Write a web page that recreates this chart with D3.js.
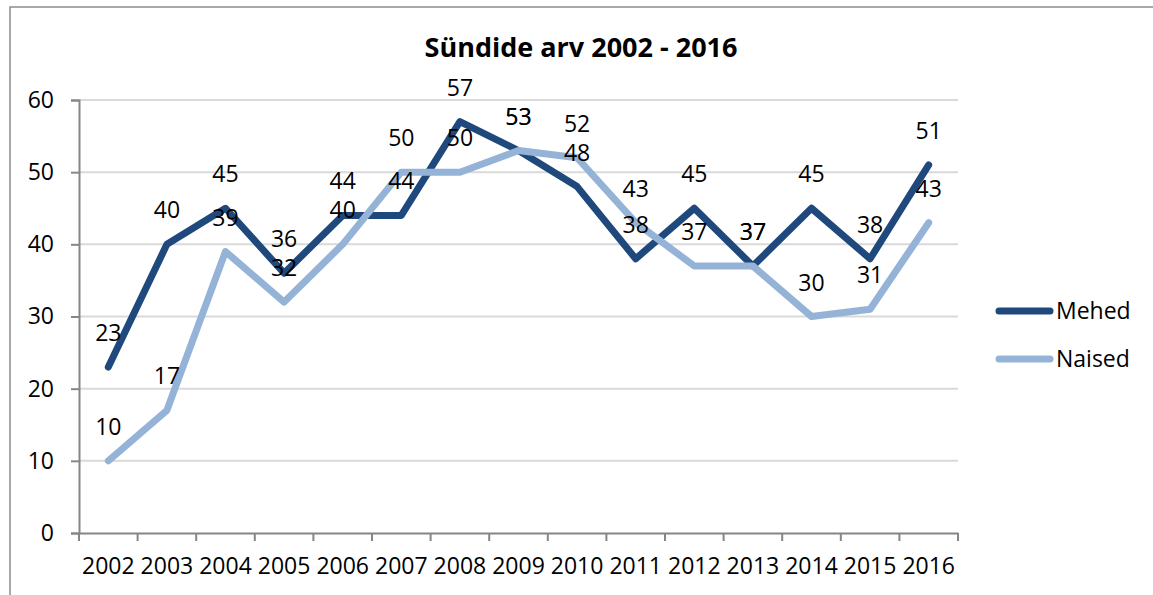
<!DOCTYPE html>
<html>
<head>
<meta charset="utf-8">
<script src="https://cdn.jsdelivr.net/npm/d3@7"></script>
<style>
  body { margin: 0; background: #fff; }
  svg { display: block; font-family: "Open Sans", sans-serif; }
</style>
</head>
<body>
<svg id="chart" width="1153" height="595"></svg>
<script>
// DATA
const years = ['2002','2003','2004','2005','2006','2007','2008','2009','2010','2011','2012','2013','2014','2015','2016'];
const mehed = [23, 40, 45, 36, 44, 44, 57, 53, 48, 38, 45, 37, 45, 38, 51];
const naised = [10, 17, 39, 32, 40, 50, 50, 53, 52, 43, 37, 37, 30, 31, 43];
const yTicks = [0, 10, 20, 30, 40, 50, 60];
const seriesNames = ['Mehed', 'Naised'];
const colors = ['#1F497D', '#95B3D7'];

const svg = d3.select('#chart');

// outer frame (right and bottom edges fall outside the picture)
svg.append('rect')
    .attr('x', 10).attr('y', 7)
    .attr('width', 1200).attr('height', 700)
    .attr('fill', 'none')
    .attr('stroke', '#8c8c8c')
    .attr('stroke-width', 1.5);

const x = d3.scaleBand().domain(years).range([79, 958]);
const y = d3.scaleLinear().domain([0, 60]).range([533, 100]);

// gridlines
svg.append('g')
    .selectAll('line')
    .data(yTicks.filter(d => d > 0))
    .enter().append('line')
    .attr('x1', 79).attr('x2', 958)
    .attr('y1', d => y(d)).attr('y2', d => y(d))
    .attr('stroke', '#d9d9d9')
    .attr('stroke-width', 2);

// y axis
const yAxis = svg.append('g')
    .attr('transform', 'translate(79,0)')
    .call(d3.axisLeft(y).tickValues(yTicks).tickSize(8).tickPadding(17));
yAxis.select('.domain').attr('stroke', '#868686').attr('stroke-width', 2);
yAxis.selectAll('.tick line').attr('stroke', '#868686').attr('stroke-width', 2);
yAxis.selectAll('text')
    .attr('font-size', 23)
    .attr('font-family', '"Open Sans", sans-serif')
    .attr('fill', '#000');

// x axis with ticks at band edges
const xAxis = svg.append('g')
    .attr('transform', 'translate(0,533)')
    .call(d3.axisBottom(x).tickSize(0).tickPadding(25));
xAxis.select('.domain').attr('stroke', '#868686').attr('stroke-width', 2);
xAxis.selectAll('text')
    .attr('font-size', 23)
    .attr('font-family', '"Open Sans", sans-serif')
    .attr('fill', '#000');
xAxis.selectAll('.edge')
    .data(years.concat(['end']))
    .enter().append('line')
    .attr('class', 'edge')
    .attr('x1', (d, i) => i < years.length ? x(d) : x.range()[1])
    .attr('x2', (d, i) => i < years.length ? x(d) : x.range()[1])
    .attr('y1', 0).attr('y2', 8)
    .attr('stroke', '#868686')
    .attr('stroke-width', 2);

// lines
const line = d3.line()
    .x((d, i) => x(years[i]) + x.bandwidth() / 2)
    .y(d => y(d));

const allSeries = [mehed, naised];

allSeries.forEach((s, k) => {
    svg.append('path')
        .datum(s)
        .attr('d', line)
        .attr('fill', 'none')
        .attr('stroke', colors[k])
        .attr('stroke-width', 7)
        .attr('stroke-linejoin', 'round')
        .attr('stroke-linecap', 'round');
});

// data labels above points
allSeries.forEach((s, k) => {
    svg.append('g')
        .selectAll('text')
        .data(s)
        .enter().append('text')
        .attr('x', (d, i) => x(years[i]) + x.bandwidth() / 2)
        .attr('y', d => y(d) - 26)
        .attr('text-anchor', 'middle')
        .attr('font-size', 23)
        .attr('fill', '#000')
        .text(d => d);
});

// title
svg.append('text')
    .attr('x', 581).attr('y', 57)
    .attr('text-anchor', 'middle')
    .attr('font-size', 27)
    .attr('font-weight', 'bold')
    .attr('fill', '#000')
    .text('Sündide arv 2002 - 2016');

// legend
const legend = svg.append('g')
    .selectAll('g')
    .data(seriesNames)
    .enter().append('g')
    .attr('transform', (d, i) => `translate(0, ${311 + i * 48})`);

legend.append('line')
    .attr('x1', 999).attr('x2', 1050)
    .attr('y1', 0).attr('y2', 0)
    .attr('stroke', (d, i) => colors[i])
    .attr('stroke-width', 7)
    .attr('stroke-linecap', 'round');

legend.append('text')
    .attr('x', 1056).attr('y', 0)
    .attr('dy', '0.35em')
    .attr('font-size', 23)
    .attr('fill', '#000')
    .text(d => d);
</script>
</body>
</html>
